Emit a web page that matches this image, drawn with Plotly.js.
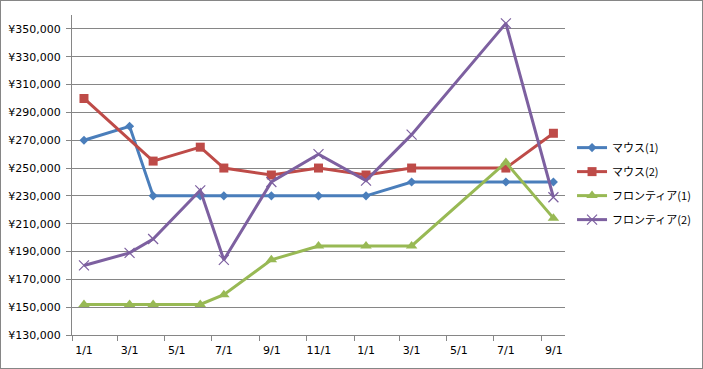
<!DOCTYPE html>
<html>
<head>
<meta charset="utf-8">
<script src="https://cdn.plot.ly/plotly-3.0.1.min.js"></script>
<style>
html,body{margin:0;padding:0;background:#fff;}
#chart{width:701px;height:367px;border:1px solid #868686;}
</style>
</head>
<body>
<div id="chart"></div>
<script>
// Months (each point is placed at the middle of its month)
const months_m1 = ['2010-01','2010-03','2010-04','2010-06','2010-07','2010-09','2010-11','2011-01','2011-03','2011-07','2011-09'];
const values_m1 = [270000,280000,230000,230000,230000,230000,230000,230000,240000,240000,240000];

const months_m2 = ['2010-01','2010-04','2010-06','2010-07','2010-09','2010-11','2011-01','2011-03','2011-07','2011-09'];
const values_m2 = [300000,255000,265000,250000,245000,250000,245000,250000,250000,275000];

const months_f1 = ['2010-01','2010-03','2010-04','2010-06','2010-07','2010-09','2010-11','2011-01','2011-03','2011-07','2011-09'];
const values_f1 = [152000,152000,152000,152000,159000,184000,194000,194000,194000,254000,214000];

const months_f2 = ['2010-01','2010-03','2010-04','2010-06','2010-07','2010-09','2010-11','2011-01','2011-03','2011-07','2011-09'];
const values_f2 = [180000,189000,199000,234000,184000,240000,260000,241000,274000,354000,229000];

const seriesNames = ['マウス(1)','マウス(2)','フロンティア(1)','フロンティア(2)'];
const colors = ['#4A7EBB','#BE4B48','#98B954','#7D60A0'];
const symbols = ['diamond','square','triangle-up','x-thin-open'];
const sizes = [7,9,10,10];

const xs = [months_m1, months_m2, months_f1, months_f2];
const ys = [values_m1, values_m2, values_f1, values_f2];

const traces = seriesNames.map((n,i)=>({
  type:'scatter', mode:'lines+markers', name:n,
  x: xs[i], y: ys[i],
  xperiod:'M1', xperiodalignment:'middle',
  line:{color:colors[i], width:3},
  marker:{symbol:symbols[i], size:sizes[i], color:colors[i],
          line:{color:colors[i], width: i===3 ? 1.2 : 0}},
  legendgroup:'g'+i
}));

const layout = {
  width:701, height:367,
  margin:{l:71, r:137, t:14, b:33},
  paper_bgcolor:'#fff', plot_bgcolor:'#fff',
  font:{family:'"DejaVu Sans", sans-serif', size:11, color:'#000'},
  showlegend:true,
  legend:{xref:'container', yref:'container',
          x:0.8146, xanchor:'left', y:0.64, yanchor:'top',
          traceorder:'grouped', tracegroupgap:5,
          font:{family:'"Noto Sans CJK JP", sans-serif', size:11, color:'#000'},
          itemwidth:30},
  xaxis:{
    type:'date',
    range:['2010-01-01','2011-10-01'],
    tick0:'2010-01-01', dtick:'M2',
    tickformat:'%-m/%-d',
    ticks:'outside', ticklen:5, tickcolor:'#868686',
    ticklabelshift:12,
    showgrid:false, zeroline:false,
    showline:true, linecolor:'#868686', linewidth:1,
    tickfont:{family:'"DejaVu Sans", sans-serif', size:11, color:'#000'}
  },
  yaxis:{
    range:[130000,360000],
    tick0:130000, dtick:20000,
    tickprefix:'¥', tickformat:',d',
    ticks:'outside', ticklen:5, tickcolor:'#868686',
    ticklabelstandoff:3,
    showgrid:true, gridcolor:'#868686', gridwidth:1,
    zeroline:false,
    showline:true, linecolor:'#868686', linewidth:1,
    tickfont:{family:'"DejaVu Sans", sans-serif', size:11, color:'#000'}
  }
};

Plotly.newPlot('chart', traces, layout, {displayModeBar:false, staticPlot:true});
</script>
</body>
</html>
